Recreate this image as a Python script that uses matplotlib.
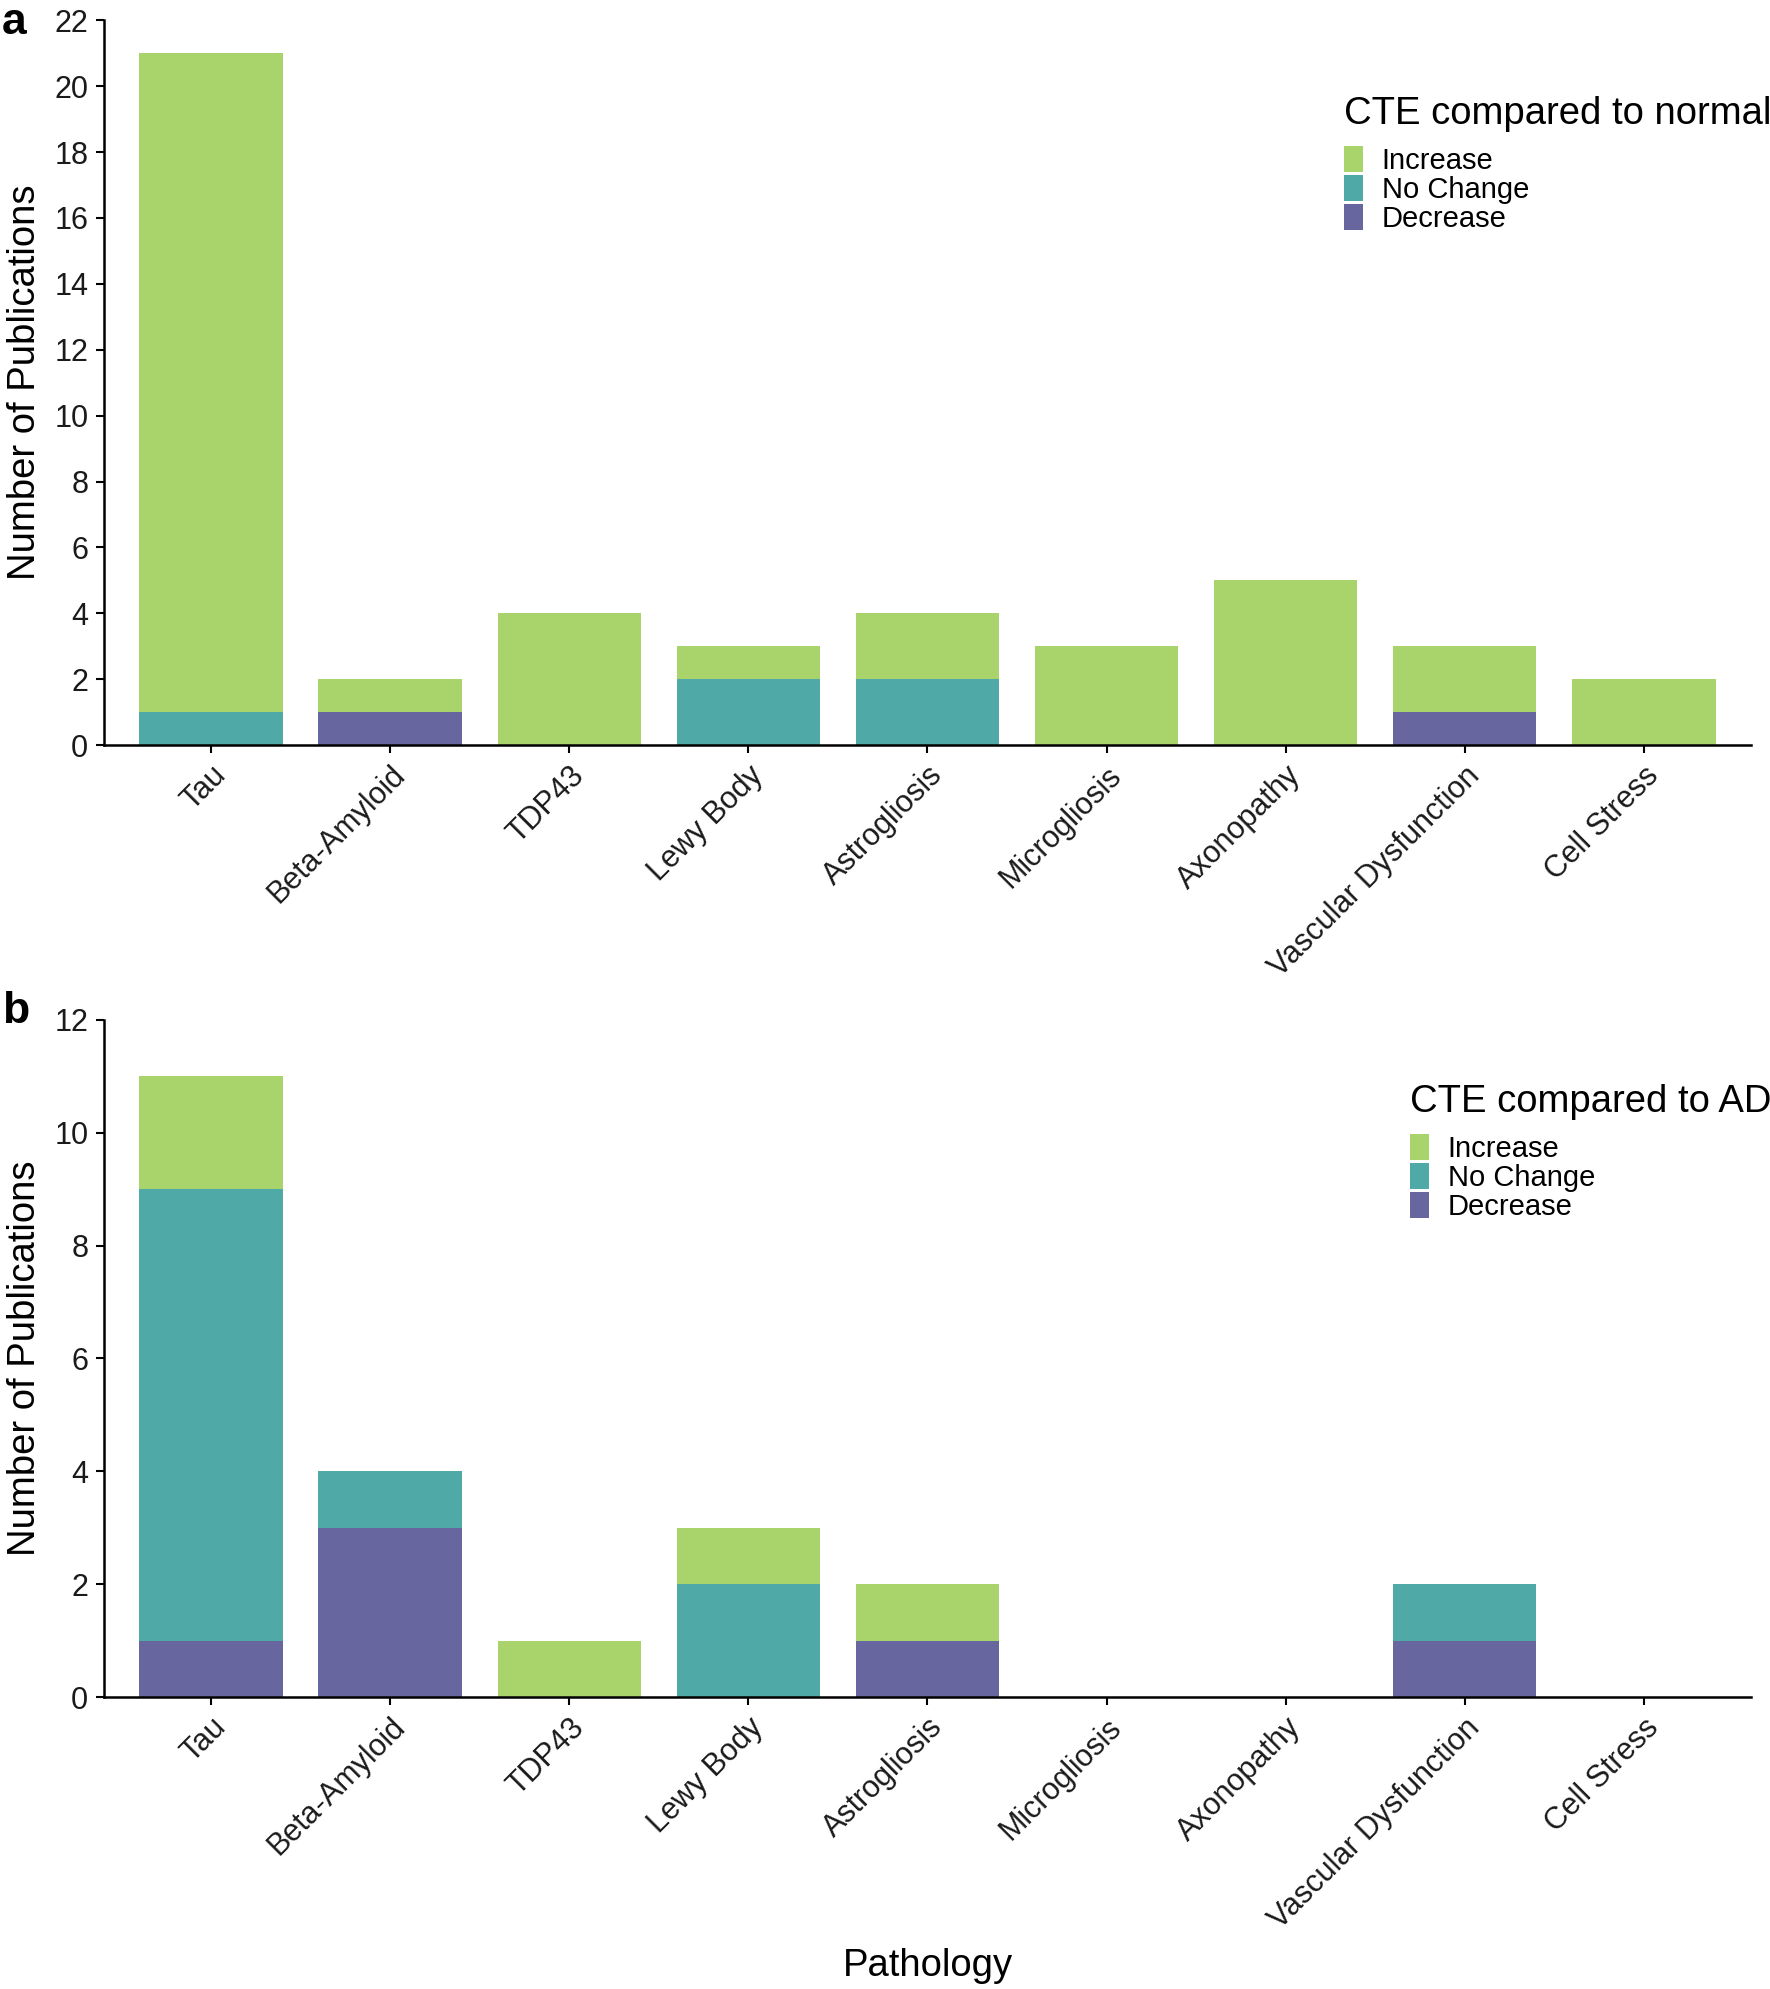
import matplotlib
matplotlib.use("Agg")
import matplotlib.pyplot as plt
import numpy as np
from matplotlib.patches import Patch

plt.rcParams['font.family'] = ['Liberation Sans', 'DejaVu Sans']

pathology = ["Tau", "Beta-Amyloid", "TDP43", "Lewy Body", "Astrogliosis",
             "Microgliosis", "Axonopathy", "Vascular Dysfunction", "Cell Stress"]

# CTE compared to normal
normal_decrease = [0, 1, 0, 0, 0, 0, 0, 1, 0]
normal_nochange = [1, 0, 0, 2, 2, 0, 0, 0, 0]
normal_increase = [20, 1, 4, 1, 2, 3, 5, 2, 2]

# CTE compared to AD
ad_decrease = [1, 3, 0, 0, 1, 0, 0, 1, 0]
ad_nochange = [8, 1, 0, 2, 0, 0, 0, 1, 0]
ad_increase = [2, 0, 1, 1, 1, 0, 0, 0, 0]

col_inc = "#a9d46c"
col_nc = "#4ea9a7"
col_dec = "#67669e"

fig = plt.figure(figsize=(17.7, 19.89), dpi=100)
ax_a = fig.add_axes([0.0585, 0.6254, 0.931, 0.3644])
ax_b = fig.add_axes([0.0585, 0.1468, 0.931, 0.3404])


def draw(ax, dec, nc, inc, ymax, title, leg_y):
    x = np.arange(len(pathology))
    dec = np.array(dec)
    nc = np.array(nc)
    inc = np.array(inc)
    ax.bar(x, dec, width=0.8, color=col_dec)
    ax.bar(x, nc, width=0.8, bottom=dec, color=col_nc)
    ax.bar(x, inc, width=0.8, bottom=dec + nc, color=col_inc)
    ax.set_xlim(-0.6, len(pathology) - 0.4)
    ax.set_ylim(0, ymax)
    ax.set_yticks(np.arange(0, ymax + 1, 2))
    ax.set_xticks(x)
    ax.set_xticklabels(pathology, rotation=45, ha="right", va="top",
                       rotation_mode="anchor", fontsize=22, color="#1a1a1a")
    for lab in ax.get_yticklabels():
        lab.set_fontsize(22)
        lab.set_color("#1a1a1a")
    ax.spines["top"].set_visible(False)
    ax.spines["right"].set_visible(False)
    ax.spines["left"].set_linewidth(1.8)
    ax.spines["bottom"].set_linewidth(1.8)
    ax.tick_params(axis="both", direction="out", length=6, width=1.5, pad=5)
    ax.set_ylabel("Number of Publications", fontsize=27.5, labelpad=8)
    handles = [Patch(facecolor=col_inc, edgecolor="none"),
               Patch(facecolor=col_nc, edgecolor="none"),
               Patch(facecolor=col_dec, edgecolor="none")]
    leg = ax.legend(handles, ["Increase", "No Change", "Decrease"],
                    title=title, loc="upper right", bbox_to_anchor=(1.012, leg_y),
                    frameon=False, fontsize=21, title_fontsize=27.5,
                    handlelength=0.65, handleheight=1.0, handletextpad=0.65,
                    labelspacing=0.0, borderpad=0, borderaxespad=0,
                    alignment="left")
    leg._legend_box.sep = 10
    return leg


draw(ax_a, normal_decrease, normal_nochange, normal_increase, 22,
     "CTE compared to normal", 0.895)
draw(ax_b, ad_decrease, ad_nochange, ad_increase, 12,
     "CTE compared to AD", 0.905)
ax_b.set_xlabel("Pathology", fontsize=27.5, labelpad=10)

fig.text(0.001, 0.999, "a", fontsize=32, fontweight="bold", va="top", ha="left")
fig.text(0.001, 0.502, "b", fontsize=32, fontweight="bold", va="top", ha="left")

fig.savefig("out.png", dpi=100)
